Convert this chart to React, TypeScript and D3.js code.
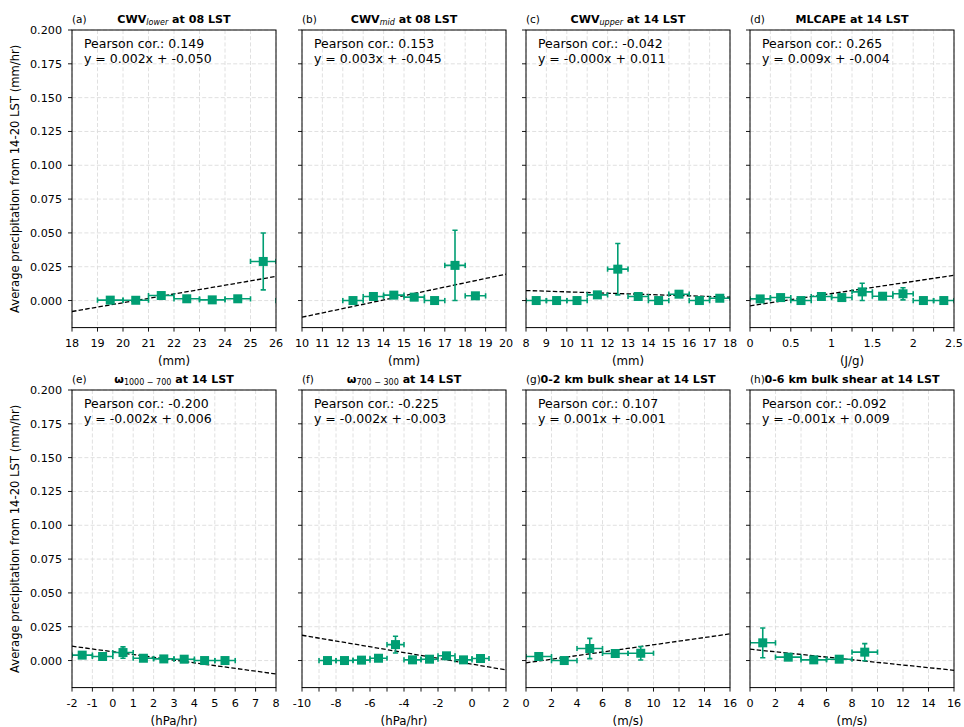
import React from "react";
import * as d3 from "d3";

// ---------- data ----------
const panelLabels = ["(a)", "(b)", "(c)", "(d)", "(e)", "(f)", "(g)", "(h)"];
const titleMain = ["CWV", "CWV", "CWV", "MLCAPE at 14 LST", "ω", "ω", "0-2 km bulk shear at 14 LST", "0-6 km bulk shear at 14 LST"];
const titleSub = ["lower", "mid", "upper", "", "1000 − 700", "700 − 300", "", ""];
const titleRest = [" at 08 LST", " at 08 LST", " at 14 LST", "", " at 14 LST", " at 14 LST", "", ""];
const xUnits = ["(mm)", "(mm)", "(mm)", "(J/g)", "(hPa/hr)", "(hPa/hr)", "(m/s)", "(m/s)"];
const pearson = ["0.149", "0.153", "-0.042", "0.265", "-0.200", "-0.225", "0.107", "-0.092"];
const equations = [
  "y = 0.002x + -0.050",
  "y = 0.003x + -0.045",
  "y = -0.000x + 0.011",
  "y = 0.009x + -0.004",
  "y = -0.002x + 0.006",
  "y = -0.002x + -0.003",
  "y = 0.001x + -0.001",
  "y = -0.001x + 0.009",
];
const xDomains: [number, number][] = [[18, 26], [10, 20], [8, 18], [0, 2.5], [-2, 8], [-10, 2], [0, 16], [0, 16]];
const xTickStep = [1, 1, 1, 0.25, 1, 1, 2, 2];
const xLabelEvery = [1, 1, 1, 2, 1, 2, 1, 1];
const xErr = [0.5, 0.5, 0.5, 0.125, 0.5, 0.5, 1, 1];

const aX = [19.5, 20.5, 21.5, 22.5, 23.5, 24.5, 25.5, 26.5];
const aY = [0.0003, 0.0002, 0.0037, 0.0013, 0.0005, 0.0013, 0.0289, 0.0];
const aYerr = [0.0008, 0.0008, 0.0012, 0.0008, 0.0006, 0.0008, 0.021, 0.0];

const bX = [12.5, 13.5, 14.5, 15.5, 16.5, 17.5, 18.5];
const bY = [0.0, 0.003, 0.004, 0.0025, 0.0, 0.026, 0.0035];
const bYerr = [0.0008, 0.001, 0.001, 0.0008, 0.0005, 0.026, 0.001];

const cX = [8.5, 9.5, 10.5, 11.5, 12.5, 13.5, 14.5, 15.5, 16.5, 17.5];
const cY = [0.0, 0.0, 0.0, 0.0042, 0.0232, 0.003, 0.0, 0.0047, 0.0, 0.0017];
const cYerr = [0.0003, 0.0003, 0.0003, 0.0012, 0.019, 0.0008, 0.0003, 0.0012, 0.0003, 0.0008];

const dX = [0.125, 0.375, 0.625, 0.875, 1.125, 1.375, 1.625, 1.875, 2.125, 2.375];
const dY = [0.0012, 0.0022, 0.0, 0.003, 0.0022, 0.0064, 0.0032, 0.005, 0.0, 0.0];
const dYerr = [0.0005, 0.0008, 0.0003, 0.0008, 0.0008, 0.0064, 0.0008, 0.0045, 0.0003, 0.0003];

const eX = [-1.5, -0.5, 0.5, 1.5, 2.5, 3.5, 4.5, 5.5];
const eY = [0.004, 0.003, 0.0059, 0.0017, 0.0012, 0.001, 0.0, 0.0];
const eYerr = [0.0008, 0.0008, 0.0042, 0.0006, 0.0005, 0.0005, 0.0004, 0.0003];

const fX = [-8.5, -7.5, -6.5, -5.5, -4.5, -3.5, -2.5, -1.5, -0.5, 0.5];
const fY = [0.0, 0.0, 0.0003, 0.0017, 0.0118, 0.0005, 0.001, 0.0035, 0.0005, 0.0015];
const fYerr = [0.0003, 0.0003, 0.0004, 0.0008, 0.0062, 0.0005, 0.0005, 0.001, 0.0004, 0.0006];

const gX = [1, 3, 5, 7, 9];
const gY = [0.003, 0.0, 0.0089, 0.0052, 0.0054];
const gYerr = [0.0008, 0.0005, 0.0075, 0.001, 0.005];

const hX = [1, 3, 5, 7, 9];
const hY = [0.0131, 0.0025, 0.0005, 0.001, 0.0062];
const hYerr = [0.011, 0.0008, 0.0005, 0.0006, 0.0063];

const seriesX = [aX, bX, cX, dX, eX, fX, gX, hX];
const seriesY = [aY, bY, cY, dY, eY, fY, gY, hY];
const seriesYerr = [aYerr, bYerr, cYerr, dYerr, eYerr, fYerr, gYerr, hYerr];

// fitted line values at the left and right ends of the x domain
const fitStart = [-0.0081, -0.0123, 0.0074, -0.0039, 0.0106, 0.0187, -0.0017, 0.0084];
const fitEnd = [0.0178, 0.0195, 0.0025, 0.0187, -0.0099, -0.0069, 0.0197, -0.0072];

const yDomain: [number, number] = [-0.02, 0.2];
const yTicks = [0, 0.025, 0.05, 0.075, 0.1, 0.125, 0.15, 0.175, 0.2];
const yLabel = "Average precipitation from 14-20 LST (mm/hr)";

// ---------- layout ----------
const W = 964;
const H = 727;
const lefts = [72, 302, 526, 750];
const tops = [30, 390];
const PW = 204;
const PH = 297.6;
const GREEN = "#009E73";
const FONT = "DejaVu Sans, sans-serif";

function fmtTick(v: number) {
  const r = Math.round(v * 1000) / 1000;
  return String(r);
}

function Panel({ i }: { i: number }) {
  const col = i % 4;
  const row = Math.floor(i / 4);
  const x0 = lefts[col];
  const y0 = tops[row];
  const xs = d3.scaleLinear().domain(xDomains[i]).range([0, PW]);
  const ys = d3.scaleLinear().domain(yDomain).range([PH, 0]);
  const [xa, xb] = xDomains[i];
  const step = xTickStep[i];
  const n = Math.round((xb - xa) / step);
  const xTicks = d3.range(n + 1).map((k) => xa + k * step);
  const clipId = `clip${i}`;
  const X = seriesX[i];
  const Y = seriesY[i];
  const YE = seriesYerr[i];
  const xe = xErr[i];
  const cap = 2.6;
  const ms = 9;
  return (
    <g transform={`translate(${x0},${y0})`}>
      <defs>
        <clipPath id={clipId}>
          <rect x={0} y={0} width={PW} height={PH} />
        </clipPath>
      </defs>
      {/* grid */}
      <g stroke="#dcdcdc" strokeWidth={0.9} strokeDasharray="4,2.2">
        {xTicks.map((t, k) => (
          <line key={"gx" + k} x1={xs(t)} x2={xs(t)} y1={0} y2={PH} />
        ))}
        {yTicks.map((t, k) => (
          <line key={"gy" + k} x1={0} x2={PW} y1={ys(t)} y2={ys(t)} />
        ))}
      </g>
      <g clipPath={`url(#${clipId})`}>
        {/* fit line */}
        <line
          x1={xs(xa)}
          x2={xs(xb)}
          y1={ys(fitStart[i])}
          y2={ys(fitEnd[i])}
          stroke="#000"
          strokeWidth={1.3}
          strokeDasharray="4.5,2.2"
        />
        {/* error bars */}
        <g stroke={GREEN} strokeWidth={1.6} fill="none">
          {X.map((x, k) => {
            const cx = xs(x);
            const cy = ys(Y[k]);
            const yt = ys(Y[k] + YE[k]);
            const yb = ys(Y[k] - YE[k]);
            const xl = xs(x - xe);
            const xr = xs(x + xe);
            return (
              <g key={"e" + k}>
                <line x1={xl} x2={xr} y1={cy} y2={cy} />
                <line x1={xl} x2={xl} y1={cy - cap} y2={cy + cap} />
                <line x1={xr} x2={xr} y1={cy - cap} y2={cy + cap} />
                <line x1={cx} x2={cx} y1={yt} y2={yb} />
                <line x1={cx - cap} x2={cx + cap} y1={yt} y2={yt} />
                <line x1={cx - cap} x2={cx + cap} y1={yb} y2={yb} />
              </g>
            );
          })}
        </g>
        {/* markers */}
        <g fill={GREEN}>
          {X.map((x, k) => (
            <rect key={"m" + k} x={xs(x) - ms / 2} y={ys(Y[k]) - ms / 2} width={ms} height={ms} />
          ))}
        </g>
      </g>
      {/* frame */}
      <rect x={0} y={0} width={PW} height={PH} fill="none" stroke="#000" strokeWidth={1} />
      {/* ticks */}
      <g stroke="#000" strokeWidth={0.9}>
        {xTicks.map((t, k) => (
          <line key={"tx" + k} x1={xs(t)} x2={xs(t)} y1={PH} y2={PH + 4} />
        ))}
        {yTicks.map((t, k) => (
          <line key={"ty" + k} x1={-4} x2={0} y1={ys(t)} y2={ys(t)} />
        ))}
      </g>
      <g fontFamily={FONT} fontSize={11.2} fill="#000" textAnchor="middle">
        {xTicks.map((t, k) =>
          k % xLabelEvery[i] === 0 ? (
            <text key={"lx" + k} x={xs(t)} y={PH + 19.5}>
              {fmtTick(t)}
            </text>
          ) : null
        )}
      </g>
      {col === 0 && (
        <g fontFamily={FONT} fontSize={11.2} fill="#000" textAnchor="end">
          {yTicks.map((t, k) => (
            <text key={"ly" + k} x={-10} y={ys(t) + 4}>
              {t.toFixed(3)}
            </text>
          ))}
        </g>
      )}
      {/* x label */}
      <text x={PW / 2} y={PH + 37} fontFamily={FONT} fontSize={11.8} textAnchor="middle">
        {xUnits[i]}
      </text>
      {/* panel label */}
      <text x={0} y={-7.5} fontFamily={FONT} fontSize={10.5}>
        {panelLabels[i]}
      </text>
      {/* title */}
      <text x={PW / 2} y={-7.5} fontFamily={FONT} fontSize={11.1} fontWeight="bold" textAnchor="middle">
        <tspan>{titleMain[i]}</tspan>
        {titleSub[i] && (
          <tspan
            fontSize={8}
            fontWeight="normal"
            fontStyle={i < 3 ? "italic" : "normal"}
            dy={2.5}
          >
            {titleSub[i]}
          </tspan>
        )}
        {titleRest[i] && <tspan dy={titleSub[i] ? -2.5 : 0}>{titleRest[i]}</tspan>}
      </text>
      {/* annotation */}
      <g fontFamily={FONT} fontSize={12.5} fill="#000">
        <text x={12} y={18}>{`Pearson cor.: ${pearson[i]}`}</text>
        <text x={12} y={33}>{equations[i]}</text>
      </g>
    </g>
  );
}

export default function App() {
  return (
    <svg
      width={W}
      height={H}
      style={{ display: "block", background: "#fff", position: "absolute", left: 0, top: 0 }}
    >
      <rect width={W} height={H} fill="#fff" />
      {d3.range(8).map((i) => (
        <Panel key={i} i={i} />
      ))}
      {tops.map((t, r) => (
        <text
          key={"yl" + r}
          transform={`translate(19,${t + PH / 2}) rotate(-90)`}
          fontFamily={FONT}
          fontSize={11.6}
          textAnchor="middle"
        >
          {yLabel}
        </text>
      ))}
    </svg>
  );
}
